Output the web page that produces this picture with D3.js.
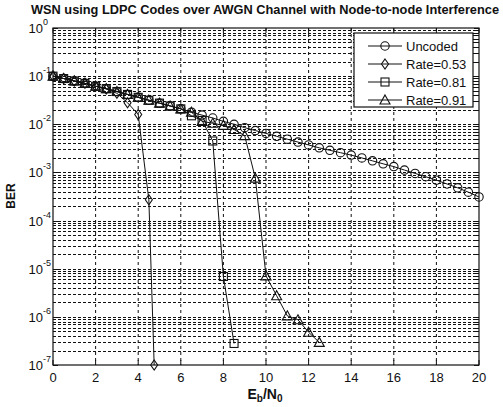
<!DOCTYPE html>
<html><head><meta charset="utf-8">
<script src="https://cdn.jsdelivr.net/npm/d3@7"></script>
<style>body{margin:0;background:#fff}svg{display:block}</style>
</head><body>
<svg id="c" width="503" height="407"></svg>
<script>
const title = "WSN using LDPC Codes over AWGN Channel with Node-to-node Interference";
const xTicks = [0,2,4,6,8,10,12,14,16,18,20];
const yExps = [0,-1,-2,-3,-4,-5,-6,-7];
const seriesNames = ["Uncoded","Rate=0.53","Rate=0.81","Rate=0.91"];

const xUncoded = [0,0.5,1,1.5,2,2.5,3,3.5,4,4.5,5,5.5,6,6.5,7,7.5,8,8.5,9,9.5,10,10.5,11,11.5,12,12.5,13,13.5,14,14.5,15,15.5,16,16.5,17,17.5,18,18.5,19,19.5,20];
const yUncoded = [0.1,0.0891,0.0794,0.0708,0.0617,0.0550,0.0479,0.0417,0.0363,0.0316,0.0275,0.0240,0.0209,0.0178,0.0155,0.0135,0.0115,0.0100,0.00851,0.00741,0.00646,0.00562,0.00490,0.00427,0.00372,0.00324,0.00288,0.00257,0.00229,0.00200,0.00174,0.00151,0.00132,0.00112,0.000955,0.000813,0.000692,0.000575,0.000479,0.000389,0.000309];

const x053 = [0,0.5,1,1.5,2,2.5,3,3.5,4,4.5,4.75];
const y053 = [0.1,0.0891,0.0794,0.0708,0.0617,0.0540,0.0440,0.028,0.016,0.00027,0.0000001];

const x081 = [0,0.5,1,1.5,2,2.5,3,3.5,4,4.5,5,5.5,6,6.5,7,7.5,8,8.5];
const y081 = [0.1,0.0891,0.0794,0.0708,0.0617,0.0550,0.0479,0.0417,0.0363,0.0316,0.0275,0.0240,0.0209,0.0150,0.0120,0.0045,0.0000069,0.00000028];

const x091 = [0,0.5,1,1.5,2,2.5,3,3.5,4,4.5,5,5.5,6,6.5,7,7.5,8,8.5,9,9.5,10,10.5,11,11.5,12,12.5];
const y091 = [0.1,0.0891,0.0794,0.0708,0.0617,0.0550,0.0479,0.0417,0.0363,0.0316,0.0275,0.0240,0.0209,0.0178,0.0115,0.0105,0.0095,0.0078,0.0058,0.00076,0.0000071,0.00000275,0.00000105,0.00000087,0.00000048,0.000000295];

const svg = d3.select("#c");
const L = 53, R = 479, T = 28, B = 365;
const x = d3.scaleLinear().domain([0,20]).range([L,R]);
const y = d3.scaleLog().domain([1e-7,1]).range([B,T]);
const ink = "#111";

// grid
const g = svg.append("g");
xTicks.slice(1,-1).forEach(v => g.append("line").attr("x1",x(v)).attr("x2",x(v)).attr("y1",T).attr("y2",B)
  .attr("stroke",ink).attr("stroke-width",1).attr("stroke-dasharray","3,3"));
for (let e=-7;e<0;e++){
  for (let m=1;m<10;m++){
    const v = m*Math.pow(10,e);
    if (m===1 && e===-7) continue;
    g.append("line").attr("x1",L).attr("x2",R).attr("y1",Math.round(y(v))+0.5).attr("y2",Math.round(y(v))+0.5)
      .attr("stroke",ink).attr("stroke-width",1).attr("stroke-dasharray","3,2");
  }
}
// y ticks (major + minor) both sides
for (let e=-7;e<=0;e++){
  for (let m=1;m<10;m++){
    const v = m*Math.pow(10,e);
    if (v>1) break;
    const len = m===1?5:3;
    const yy = Math.round(y(v))+0.5;
    g.append("line").attr("x1",L).attr("x2",L+len).attr("y1",yy).attr("y2",yy).attr("stroke",ink);
    g.append("line").attr("x1",R).attr("x2",R-len).attr("y1",yy).attr("y2",yy).attr("stroke",ink);
  }
}
xTicks.forEach(v => {
  g.append("line").attr("x1",x(v)).attr("x2",x(v)).attr("y1",B).attr("y2",B-5).attr("stroke",ink);
  g.append("line").attr("x1",x(v)).attr("x2",x(v)).attr("y1",T).attr("y2",T+5).attr("stroke",ink);
});
svg.append("rect").attr("x",L).attr("y",T).attr("width",R-L).attr("height",B-T)
  .attr("fill","none").attr("stroke",ink).attr("stroke-width",1.2);

// tick labels
const font = "'Liberation Sans', Arial, sans-serif";
xTicks.forEach(v => svg.append("text").attr("x",x(v)).attr("y",382).attr("text-anchor","middle")
  .attr("font-family",font).attr("font-size",13).attr("fill",ink).text(v));
yExps.forEach(e => {
  const t = svg.append("text").attr("x",43).attr("y",y(Math.pow(10,e))+5).attr("text-anchor","end")
    .attr("font-family",font).attr("font-size",13).attr("fill",ink);
  t.text("10");
  svg.append("text").attr("x",43).attr("y",y(Math.pow(10,e))-3).attr("font-family",font).attr("font-size",9)
    .attr("fill",ink).text(e===0?"0":e);
});

// lines & markers
const line = d3.line().x(d=>x(d[0])).y(d=>y(d[1]));
const series = [
  {xs:xUncoded, ys:yUncoded, m:"circle"},
  {xs:x053, ys:y053, m:"diamond"},
  {xs:x081, ys:y081, m:"square"},
  {xs:x091, ys:y091, m:"triangle"}
];
function marker(sel, type, cx, cy){
  if (type==="circle") sel.append("circle").attr("cx",cx).attr("cy",cy).attr("r",4.2);
  else if (type==="square") sel.append("rect").attr("x",cx-4).attr("y",cy-4).attr("width",8).attr("height",8);
  else if (type==="diamond") sel.append("path").attr("d",`M${cx},${cy-5}L${cx+3.5},${cy}L${cx},${cy+5}L${cx-3.5},${cy}Z`);
  else sel.append("path").attr("d",`M${cx},${cy-5}L${cx+5},${cy+4}L${cx-5},${cy+4}Z`);
}
series.forEach(s => {
  const pts = s.xs.map((v,i)=>[v,s.ys[i]]);
  svg.append("path").datum(pts).attr("d",line).attr("fill","none").attr("stroke",ink).attr("stroke-width",1);
  const mg = svg.append("g").attr("fill","none").attr("stroke",ink).attr("stroke-width",1.1);
  pts.forEach(p => marker(mg, s.m, x(p[0]), y(p[1])));
});

// legend
const lg = svg.append("g");
lg.append("rect").attr("x",354).attr("y",33).attr("width",119).attr("height",74).attr("fill","#fff").attr("stroke",ink).attr("stroke-width",1.2);
seriesNames.forEach((n,i) => {
  const yy = 46 + i*18;
  lg.append("line").attr("x1",368).attr("x2",402).attr("y1",yy).attr("y2",yy).attr("stroke",ink);
  const mg = lg.append("g").attr("fill","none").attr("stroke",ink).attr("stroke-width",1.1);
  marker(mg, series[i].m, 385, yy);
  lg.append("text").attr("x",406).attr("y",yy+5).attr("font-family",font).attr("font-size",13).attr("fill",ink).text(n);
});

// title & axis labels
svg.append("text").attr("x",265).attr("y",14).attr("text-anchor","middle").attr("font-family",font)
  .attr("font-weight","bold").attr("font-size",12).attr("textLength",468).attr("lengthAdjust","spacingAndGlyphs")
  .attr("fill",ink).text(title);
svg.append("text").attr("transform","translate(15,196) rotate(-90)").attr("text-anchor","middle")
  .attr("font-family",font).attr("font-weight","bold").attr("font-size",12).attr("fill",ink).text("BER");
const xl = svg.append("text").attr("x",265).attr("y",399).attr("text-anchor","middle").attr("font-family",font)
  .attr("font-weight","bold").attr("font-size",14).attr("fill",ink);
xl.append("tspan").text("E");
xl.append("tspan").attr("dy",3).attr("font-size",10).text("b");
xl.append("tspan").attr("dy",-3).text("/N");
xl.append("tspan").attr("dy",3).attr("font-size",10).text("0");
</script>
</body></html>
